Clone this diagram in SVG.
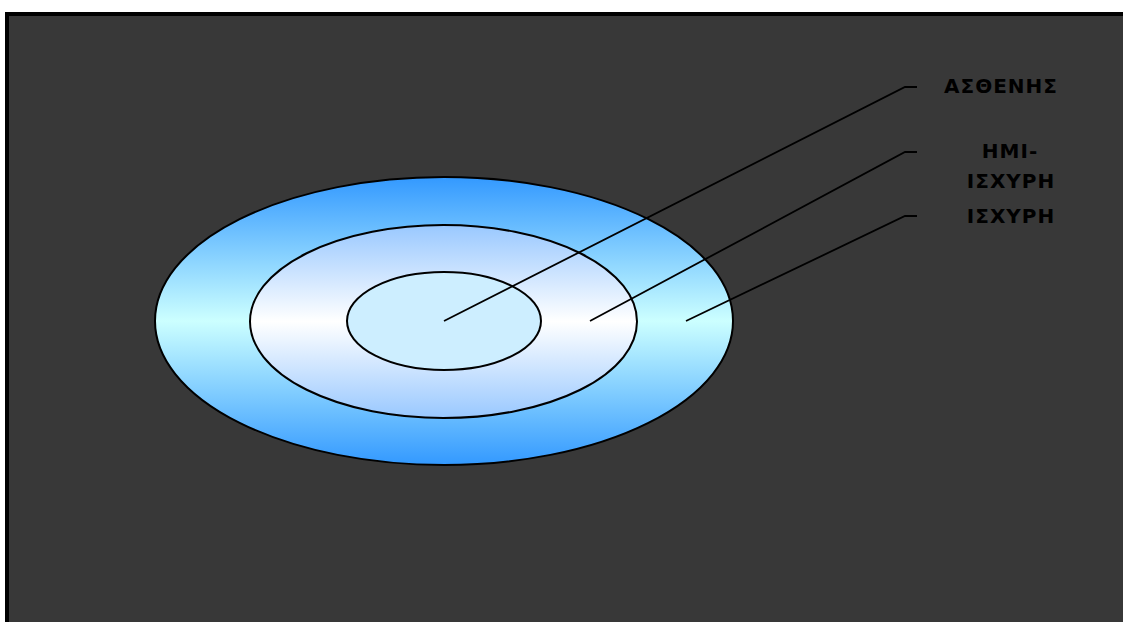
<svg xmlns="http://www.w3.org/2000/svg" width="1123" height="622" viewBox="0 0 1123 622">
<style>
.ring{stroke:#000;stroke-width:2}
.lead{fill:none;stroke:#000;stroke-width:1.8}
.lbl{font-family:"DejaVu Sans","Liberation Sans",sans-serif;font-weight:bold;font-size:20px;letter-spacing:1px;fill:#000;text-anchor:middle}
</style>
<defs>
<linearGradient id="gOuter" x1="0" y1="0" x2="0" y2="1">
<stop offset="0" stop-color="#3399ff"/>
<stop offset="0.5" stop-color="#ccffff"/>
<stop offset="1" stop-color="#3399ff"/>
</linearGradient>
<linearGradient id="gMid" x1="0" y1="0" x2="0" y2="1">
<stop offset="0" stop-color="#99c8ff"/>
<stop offset="0.5" stop-color="#ffffff"/>
<stop offset="1" stop-color="#99c8ff"/>
</linearGradient>
</defs>
<rect x="0" y="0" width="1123" height="622" fill="#ffffff"/>
<rect x="7" y="14" width="1120" height="612" fill="#383838" stroke="#000" stroke-width="4"/>
<g id="outer"><ellipse class="ring" cx="444" cy="321" rx="289" ry="144" fill="url(#gOuter)"/></g>
<g id="middle"><ellipse class="ring" cx="443.5" cy="321.5" rx="193.5" ry="96.5" fill="url(#gMid)"/></g>
<g id="inner"><ellipse class="ring" cx="444" cy="321" rx="97" ry="49" fill="#cdeeff"/></g>
<g id="connectors">
<polyline class="lead" points="444,321 905,87 917,87"/>
<polyline class="lead" points="590,321 905,152 917,152"/>
<polyline class="lead" points="686,321 905,216 917,216"/>
</g>
<g id="label-astheneis"><text class="lbl" x="1001" y="93">ΑΣΘΕΝΗΣ</text></g>
<g id="label-hmi"><text class="lbl" x="1010" y="158">ΗΜΙ-</text><text class="lbl" x="1011" y="188">ΙΣΧΥΡΗ</text></g>
<g id="label-isxyrh"><text class="lbl" x="1011" y="223">ΙΣΧΥΡΗ</text></g>
</svg>
